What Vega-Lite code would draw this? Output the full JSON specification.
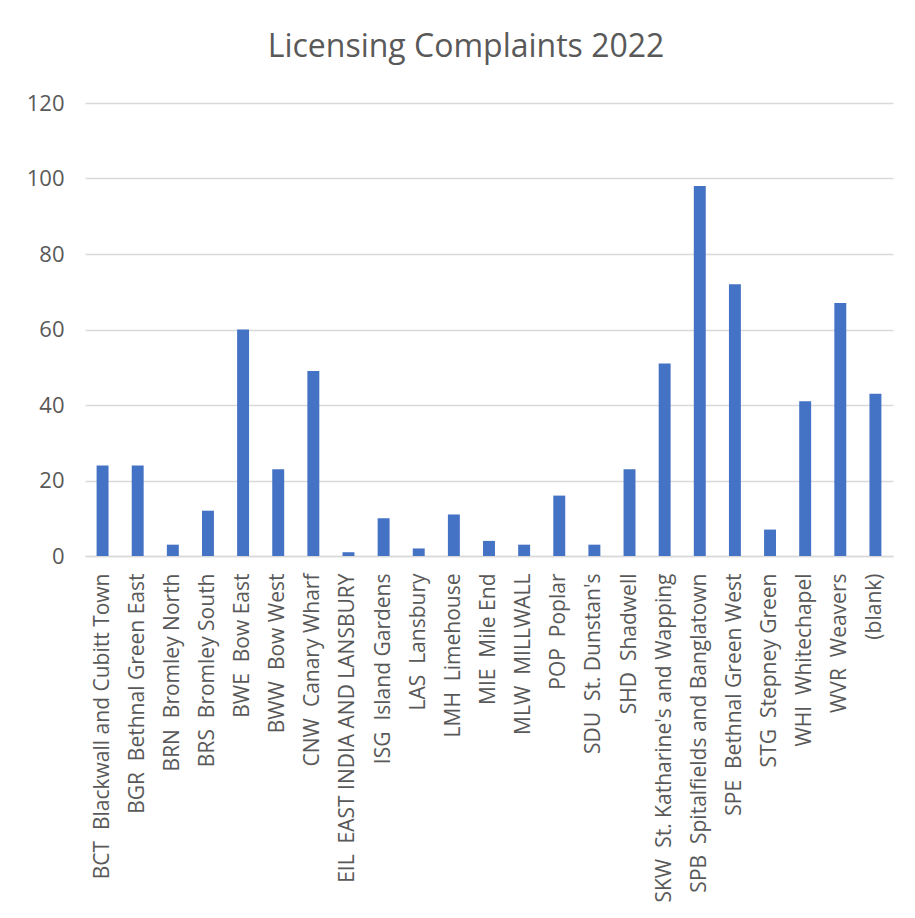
{
  "$schema": "https://vega.github.io/schema/vega-lite/v6.json",
  "autosize": "none",
  "width": 808,
  "height": 453,
  "padding": {"left": 85, "top": 103, "right": 22, "bottom": 362},
  "background": "white",
  "title": {
    "text": "Licensing Complaints 2022",
    "font": "Open Sans",
    "fontSize": 32,
    "fontWeight": "normal",
    "color": "#595959",
    "anchor": "middle",
    "dx": -23,
    "offset": 28
  },
  "data": {
    "values": [
      {"ward": "BCT\u00a0 Blackwall and Cubitt Town", "count": 24},
      {"ward": "BGR\u00a0 Bethnal Green East", "count": 24},
      {"ward": "BRN\u00a0 Bromley North", "count": 3},
      {"ward": "BRS\u00a0 Bromley South", "count": 12},
      {"ward": "BWE\u00a0 Bow East", "count": 60},
      {"ward": "BWW\u00a0 Bow West", "count": 23},
      {"ward": "CNW\u00a0 Canary Wharf", "count": 49},
      {"ward": "EIL\u00a0 EAST INDIA AND LANSBURY", "count": 1},
      {"ward": "ISG\u00a0 Island Gardens", "count": 10},
      {"ward": "LAS\u00a0 Lansbury", "count": 2},
      {"ward": "LMH\u00a0 Limehouse", "count": 11},
      {"ward": "MIE\u00a0 Mile End", "count": 4},
      {"ward": "MLW\u00a0 MILLWALL", "count": 3},
      {"ward": "POP\u00a0 Poplar", "count": 16},
      {"ward": "SDU\u00a0 St. Dunstan's", "count": 3},
      {"ward": "SHD\u00a0 Shadwell", "count": 23},
      {"ward": "SKW\u00a0 St. Katharine's and Wapping", "count": 51},
      {"ward": "SPB\u00a0 Spitalfields and Banglatown", "count": 98},
      {"ward": "SPE\u00a0 Bethnal Green West", "count": 72},
      {"ward": "STG\u00a0 Stepney Green", "count": 7},
      {"ward": "WHI\u00a0 Whitechapel", "count": 41},
      {"ward": "WVR\u00a0 Weavers", "count": 67},
      {"ward": "(blank)", "count": 43}
    ]
  },
  "mark": {"type": "bar", "color": "#4472C4"},
  "encoding": {
    "x": {
      "field": "ward",
      "type": "nominal",
      "sort": null,
      "scale": {"paddingInner": 0.66, "paddingOuter": 0.33},
      "axis": {
        "title": null,
        "labelAngle": -90,
        "labelFont": "Open Sans",
        "labelFontSize": 21,
        "labelColor": "#595959",
        "labelPadding": 17,
        "labelLimit": 400,
        "ticks": false,
        "domainColor": "#d9d9d9",
        "domainWidth": 1.5
      }
    },
    "y": {
      "field": "count",
      "type": "quantitative",
      "scale": {"domain": [0, 120]},
      "axis": {
        "title": null,
        "values": [0, 20, 40, 60, 80, 100, 120],
        "labelFont": "Open Sans",
        "labelFontSize": 22,
        "labelColor": "#595959",
        "labelPadding": 21,
        "ticks": false,
        "domain": false,
        "gridColor": "#d9d9d9",
        "gridWidth": 1.5
      }
    }
  },
  "config": {"view": {"stroke": null}}
}
